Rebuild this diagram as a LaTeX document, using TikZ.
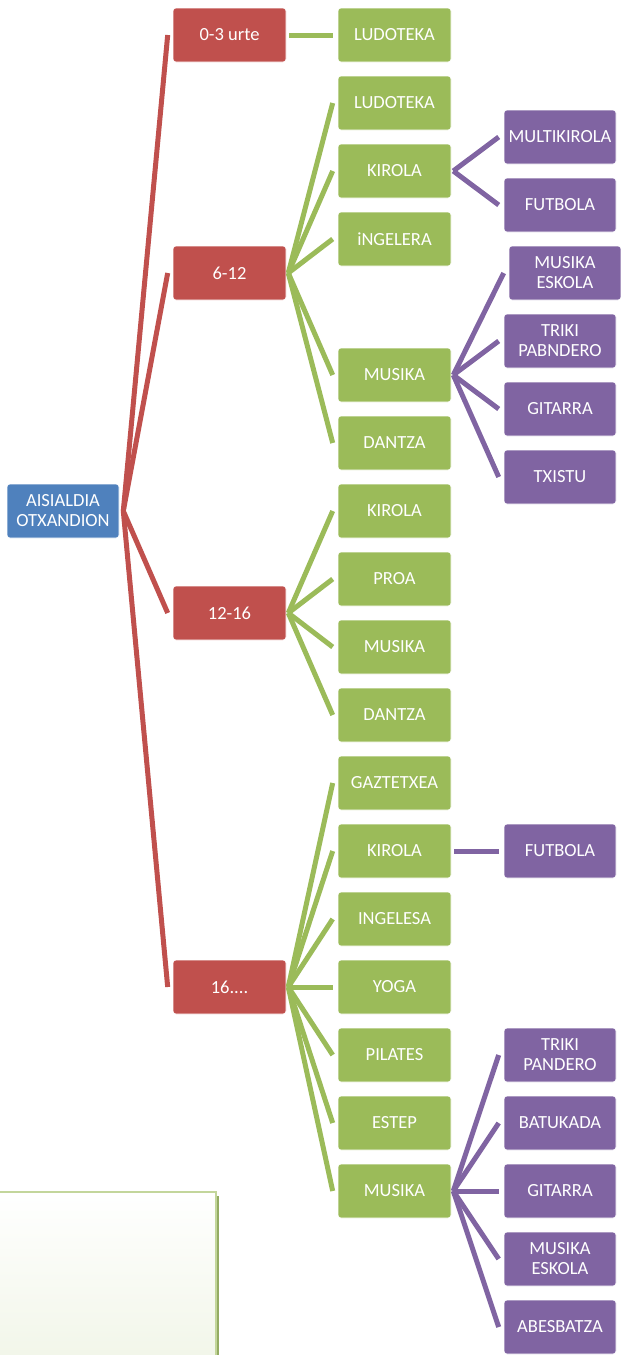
\documentclass[tikz,border=0pt]{standalone}
\usepackage{fontspec}
\setmainfont{Carlito}
\usetikzlibrary{positioning}
\definecolor{rootblue}{HTML}{4F81BD}
\definecolor{agered}{HTML}{C0504D}
\definecolor{actgreen}{HTML}{9BBB59}
\definecolor{subpurple}{HTML}{8064A2}
\tikzset{
	box/.style={rectangle, rounded corners=3pt, draw=white, line width=0.6pt, text=white, align=center, inner sep=0pt, minimum width=113pt, minimum height=54pt, font=\fontsize{18.5}{20}\selectfont},
	rootbox/.style={box, fill=rootblue, minimum width=112pt},
	agebox/.style={box, fill=agered},
	actbox/.style={box, fill=actgreen},
	subbox/.style={box, fill=subpurple, minimum width=112pt},
	redline/.style={agered, line width=5pt},
	greenline/.style={actgreen, line width=5pt},
	purpleline/.style={subpurple, line width=5pt}
}

\begin{document}
\begin{tikzpicture}[x=1pt, y=-1pt]
			%%%%% START %%%%%
			\useasboundingbox (0, 0) rectangle (621, 1355);
			
			% empty box bottom left
			\shade[top color=white, bottom color=actgreen!13] (0, 1191) rectangle (216, 1356);
			\draw[color=actgreen!60, line width=2pt] (0, 1192) -- (216, 1192) -- (216, 1356);
			\draw[color=actgreen!75!gray, line width=2pt] (218, 1196) -- (218, 1356);
			
			\node[rootbox] (root) at (63, 511) {AISIALDIA\\OTXANDION};
			
			\node[agebox] (age03) at (229.5, 35) {0-3 urte};
			\node[agebox] (age612) at (229.5, 273) {6-12};
			\node[agebox] (age1216) at (229.5, 613) {12-16};
			\node[agebox] (age16) at (229.5, 987) {16....};
			
			\node[actbox] (ludA) at (394.5, 35) {LUDOTEKA};
			
			\node[actbox] (ludB) at (394.5, 103) {LUDOTEKA};
			\node[actbox] (kirB) at (394.5, 171) {KIROLA};
			\node[actbox] (ingB) at (394.5, 239) {iNGELERA};
			\node[actbox] (musB) at (394.5, 375) {MUSIKA};
			\node[actbox] (danB) at (394.5, 443) {DANTZA};
			
			\node[actbox] (kirC) at (394.5, 511) {KIROLA};
			\node[actbox] (proC) at (394.5, 579) {PROA};
			\node[actbox] (musC) at (394.5, 647) {MUSIKA};
			\node[actbox] (danC) at (394.5, 715) {DANTZA};
			
			\node[actbox] (gazD) at (394.5, 783) {GAZTETXEA};
			\node[actbox] (kirD) at (394.5, 851) {KIROLA};
			\node[actbox] (ingD) at (394.5, 919) {INGELESA};
			\node[actbox] (yogD) at (394.5, 987) {YOGA};
			\node[actbox] (pilD) at (394.5, 1055) {PILATES};
			\node[actbox] (estD) at (394.5, 1123) {ESTEP};
			\node[actbox] (musD) at (394.5, 1191) {MUSIKA};
			
			\node[subbox] (multiB) at (560, 137) {MULTIKIROLA};
			\node[subbox] (futB) at (560, 205) {FUTBOLA};
			\node[subbox] (eskB) at (565, 273) {MUSIKA\\ESKOLA};
			\node[subbox] (trikiB) at (560, 341) {TRIKI\\PABNDERO};
			\node[subbox] (gitB) at (560, 409) {GITARRA};
			\node[subbox] (txiB) at (560, 477) {TXISTU};
			
			\node[subbox] (futD) at (560, 851) {FUTBOLA};
			
			\node[subbox] (trikiD) at (560, 1055) {TRIKI\\PANDERO};
			\node[subbox] (batD) at (560, 1123) {BATUKADA};
			\node[subbox] (gitD) at (560, 1191) {GITARRA};
			\node[subbox] (eskD) at (560, 1259) {MUSIKA\\ESKOLA};
			\node[subbox] (abeD) at (560, 1327) {ABESBATZA};
			
			% root to ages
			\draw[redline] ([xshift=4pt]root.east) -- ([xshift=-5pt]age03.west);
			\draw[redline] ([xshift=4pt]root.east) -- ([xshift=-5pt]age612.west);
			\draw[redline] ([xshift=4pt]root.east) -- ([xshift=-5pt]age1216.west);
			\draw[redline] ([xshift=4pt]root.east) -- ([xshift=-5pt]age16.west);
			
			% ages to activities
			\draw[greenline] ([xshift=3pt]age03.east) -- ([xshift=-5pt]ludA.west);
			
			\draw[greenline] ([xshift=2pt]age612.east) -- ([xshift=-5pt]ludB.west);
			\draw[greenline] ([xshift=2pt]age612.east) -- ([xshift=-5pt]kirB.west);
			\draw[greenline] ([xshift=2pt]age612.east) -- ([xshift=-5pt]ingB.west);
			\draw[greenline] ([xshift=2pt]age612.east) -- ([xshift=-5pt]musB.west);
			\draw[greenline] ([xshift=2pt]age612.east) -- ([xshift=-5pt]danB.west);
			
			\draw[greenline] ([xshift=2pt]age1216.east) -- ([xshift=-5pt]kirC.west);
			\draw[greenline] ([xshift=2pt]age1216.east) -- ([xshift=-5pt]proC.west);
			\draw[greenline] ([xshift=2pt]age1216.east) -- ([xshift=-5pt]musC.west);
			\draw[greenline] ([xshift=2pt]age1216.east) -- ([xshift=-5pt]danC.west);
			
			\draw[greenline] ([xshift=2pt]age16.east) -- ([xshift=-5pt]gazD.west);
			\draw[greenline] ([xshift=2pt]age16.east) -- ([xshift=-5pt]kirD.west);
			\draw[greenline] ([xshift=2pt]age16.east) -- ([xshift=-5pt]ingD.west);
			\draw[greenline] ([xshift=2pt]age16.east) -- ([xshift=-5pt]yogD.west);
			\draw[greenline] ([xshift=2pt]age16.east) -- ([xshift=-5pt]pilD.west);
			\draw[greenline] ([xshift=2pt]age16.east) -- ([xshift=-5pt]estD.west);
			\draw[greenline] ([xshift=2pt]age16.east) -- ([xshift=-5pt]musD.west);
			
			% activities to sub activities
			\draw[purpleline] ([xshift=2pt]kirB.east) -- ([xshift=-5pt]multiB.west);
			\draw[purpleline] ([xshift=2pt]kirB.east) -- ([xshift=-5pt]futB.west);
			
			\draw[purpleline] ([xshift=2pt]musB.east) -- ([xshift=-5pt]eskB.west);
			\draw[purpleline] ([xshift=2pt]musB.east) -- ([xshift=-5pt]trikiB.west);
			\draw[purpleline] ([xshift=2pt]musB.east) -- ([xshift=-5pt]gitB.west);
			\draw[purpleline] ([xshift=2pt]musB.east) -- ([xshift=-5pt]txiB.west);
			
			\draw[purpleline] ([xshift=3pt]kirD.east) -- ([xshift=-5pt]futD.west);
			
			\draw[purpleline] ([xshift=2pt]musD.east) -- ([xshift=-5pt]trikiD.west);
			\draw[purpleline] ([xshift=2pt]musD.east) -- ([xshift=-5pt]batD.west);
			\draw[purpleline] ([xshift=2pt]musD.east) -- ([xshift=-5pt]gitD.west);
			\draw[purpleline] ([xshift=2pt]musD.east) -- ([xshift=-5pt]eskD.west);
			\draw[purpleline] ([xshift=2pt]musD.east) -- ([xshift=-5pt]abeD.west);
			
			%%%%% END %%%%%
\end{tikzpicture}
\end{document}
